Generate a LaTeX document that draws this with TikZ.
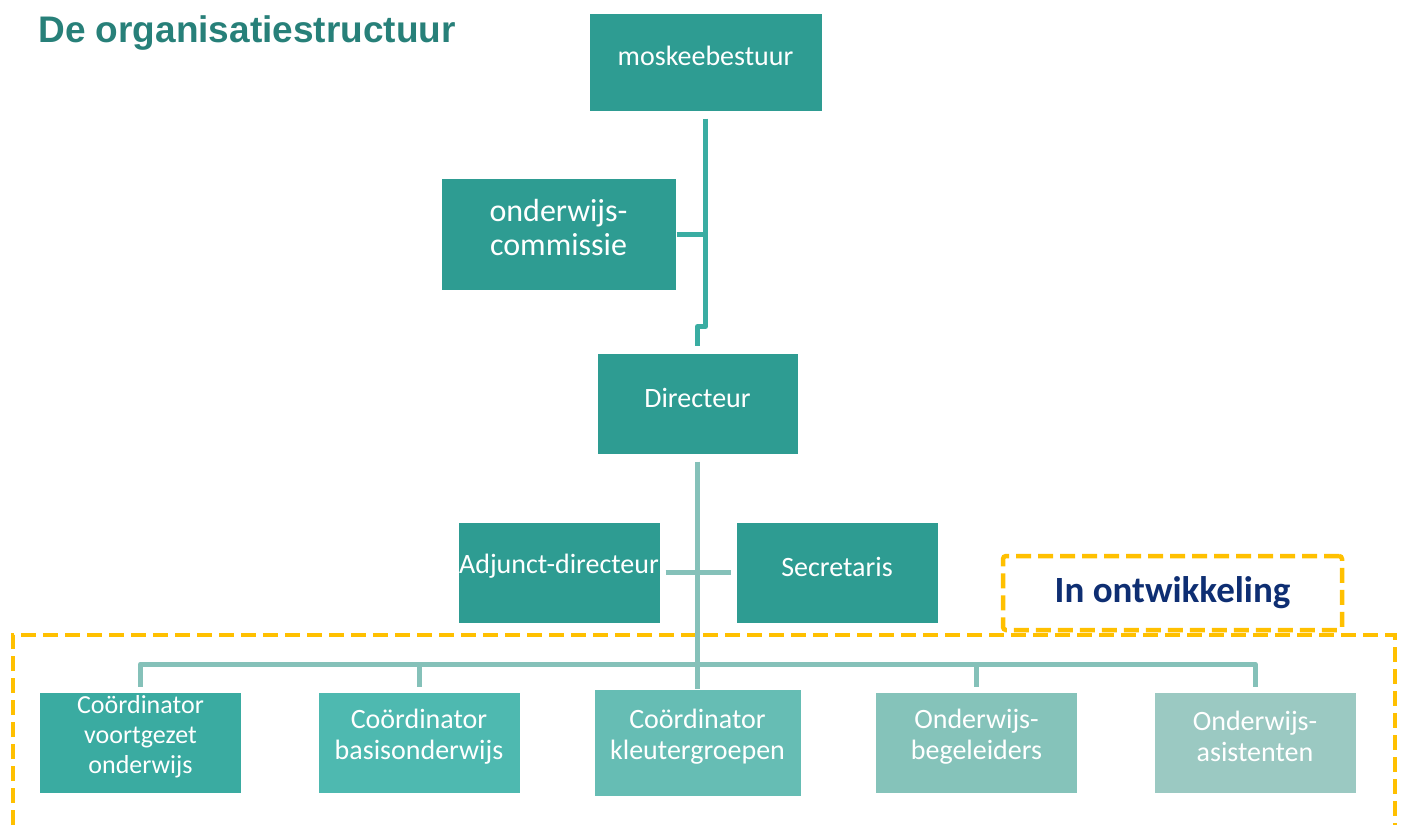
\documentclass[tikz,border=0pt]{standalone}
\usepackage{fontspec}
\setmainfont{Carlito}
\newfontfamily\titlefont{Liberation Sans}
\usetikzlibrary{calc}

\definecolor{titleteal}{RGB}{39,128,121}
\definecolor{boxteal}{RGB}{46,156,146}
\definecolor{topteal}{RGB}{58,173,162}
\definecolor{botteal}{RGB}{133,193,185}
\definecolor{coordA}{RGB}{58,171,161}
\definecolor{coordB}{RGB}{78,185,176}
\definecolor{coordC}{RGB}{102,189,180}
\definecolor{coordD}{RGB}{133,195,186}
\definecolor{coordE}{RGB}{155,201,194}
\definecolor{devorange}{RGB}{255,192,0}
\definecolor{devblue}{RGB}{14,46,114}

\tikzset{every picture/.style={line width=0.75pt}}
\tikzset{
  orgbox/.style={fill=#1, draw=white, line width=1pt, inner sep=0pt},
  boxtext/.style={text=white, align=center, yshift=6pt, inner sep=0pt, font=\fontsize{28}{31}\selectfont},
  topline/.style={draw=topteal, line width=5pt, line join=round},
  botline/.style={draw=botteal, line width=5pt, line join=round},
  devdash/.style={draw=devorange, line width=4.5pt, dash pattern=on 15pt off 7pt},
}

\begin{document}
\begin{tikzpicture}[x=1pt,y=1pt,yscale=-1,xscale=1]
		\useasboundingbox (0,0) rectangle (1403,825);
		
		%title
		\node [anchor=base west, inner sep=0pt, text=titleteal, font=\titlefont\bfseries\fontsize{37}{40}\selectfont] (title) at (38,42) {De organisatiestructuur};
		
		%dashed frames
		\draw [devdash] (13,825) -- (13,635) -- (1395,635) -- (1395,825);
		\node [devdash, rounded corners=3pt, minimum width=339, minimum height=74, inner sep=0pt, text=devblue, font=\bfseries\fontsize{37}{40}\selectfont] (dev) at (1172.5,593) {In ontwikkeling};
		
		%top boxes
		\node [orgbox=boxteal, minimum width=233, minimum height=98, label={[boxtext]center:moskeebestuur}] (mosk) at (705.5,62) {};
		\node [orgbox=boxteal, minimum width=235, minimum height=112, label={[boxtext, font=\fontsize{32}{34}\selectfont]center:onderwijs-\\commissie}] (comm) at (558.5,234) {};
		\node [orgbox=boxteal, minimum width=201, minimum height=101, label={[boxtext]center:Directeur}] (dir) at (697.5,403.5) {};
		\node [orgbox=boxteal, minimum width=202, minimum height=101, label={[boxtext]center:Adjunct-directeur}] (adj) at (559,572.5) {};
		\node [orgbox=boxteal, minimum width=202, minimum height=101, label={[boxtext]center:Secretaris}] (secr) at (837,572.5) {};
		
		%bottom boxes
		\node [orgbox=coordA, minimum width=202, minimum height=101, label={[boxtext, font=\fontsize{26}{30}\selectfont]center:Coördinator\\voortgezet\\onderwijs}] (vo) at (140.5,742.5) {};
		\node [orgbox=coordB, minimum width=202, minimum height=101, label={[boxtext]center:Coördinator\\basisonderwijs}] (bas) at (419,742.5) {};
		\node [orgbox=coordC, minimum width=207, minimum height=107, label={[boxtext]center:Coördinator\\kleutergroepen}] (kleu) at (697.5,742.5) {};
		\node [orgbox=coordD, minimum width=202, minimum height=101, label={[boxtext]center:Onderwijs-\\begeleiders}] (beg) at (976.5,742.5) {};
		\node [orgbox=coordE, minimum width=202, minimum height=101, label={[boxtext]center:Onderwijs-\\asistenten}] (ass) at (1255,742.5) {};
		
		%connectors
		\draw [topline] (mosk.south) ++(0,7) -- ++(0,208) -| ($(dir.north)+(0,-7)$);
		\draw [topline] (comm.east) -- (comm.east -| mosk.south);
		\draw [botline] (dir.south) ++(0,7) -- (kleu.north);
		\draw [botline] ($(adj.east)+(5,0)$) -- ($(secr.west)+(-5,0)$);
		\coordinate (bus) at (697.5,664);
		\draw [botline] ($(vo.north)+(0,-5)$) |- (bus) -| ($(ass.north)+(0,-5)$);
		\draw [botline] ($(bas.north)+(0,-5)$) -- (bas.north |- bus);
		\draw [botline] ($(beg.north)+(0,-5)$) -- (beg.north |- bus);
		
\end{tikzpicture}
\end{document}
